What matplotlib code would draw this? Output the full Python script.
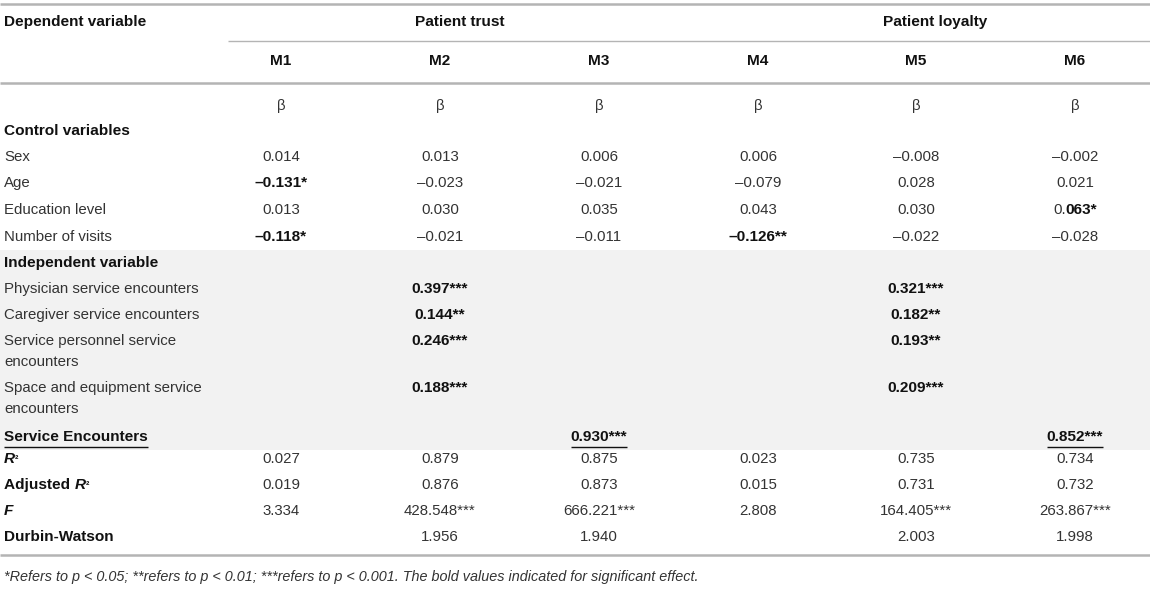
import matplotlib
matplotlib.use("Agg")
import matplotlib.pyplot as plt
from matplotlib.patches import Rectangle

plt.rcParams['font.family'] = ['Liberation Sans', 'DejaVu Sans']

# ---------------- data ----------------
groups = ["Patient trust", "Patient loyalty"]
models = ["M1", "M2", "M3", "M4", "M5", "M6"]
coef_label = "β"

row_labels = [
    "Sex", "Age", "Education level", "Number of visits",
    "Physician service encounters", "Caregiver service encounters",
    "Service personnel service\nencounters", "Space and equipment service\nencounters",
    "Service Encounters",
    "R2", "Adjusted R2", "F", "Durbin-Watson",
]
sex_vals = ["0.014", "0.013", "0.006", "0.006", "–0.008", "–0.002"]
age_vals = ["–0.131*", "–0.023", "–0.021", "–0.079", "0.028", "0.021"]
edu_vals = ["0.013", "0.030", "0.035", "0.043", "0.030", "0.063*"]
visits_vals = ["–0.118*", "–0.021", "–0.011", "–0.126**", "–0.022", "–0.028"]
physician_vals = ["", "0.397***", "", "", "0.321***", ""]
caregiver_vals = ["", "0.144**", "", "", "0.182**", ""]
personnel_vals = ["", "0.246***", "", "", "0.193**", ""]
space_vals = ["", "0.188***", "", "", "0.209***", ""]
encounters_vals = ["", "", "0.930***", "", "", "0.852***"]
r2_vals = ["0.027", "0.879", "0.875", "0.023", "0.735", "0.734"]
adj_r2_vals = ["0.019", "0.876", "0.873", "0.015", "0.731", "0.732"]
f_vals = ["3.334", "428.548***", "666.221***", "2.808", "164.405***", "263.867***"]
dw_vals = ["", "1.956", "1.940", "", "2.003", "1.998"]

all_vals = [sex_vals, age_vals, edu_vals, visits_vals, physician_vals, caregiver_vals,
            personnel_vals, space_vals, encounters_vals, r2_vals, adj_r2_vals, f_vals, dw_vals]

# bold cells: (row index, column index)
bold_cells = [(1, 0), (3, 0), (3, 3), (4, 1), (4, 4), (5, 1), (5, 4), (6, 1), (6, 4),
              (7, 1), (7, 4), (8, 2), (8, 5)]
partial_bold_cells = [(2, 5)]   # "0." regular + rest bold
underlined_cells = [(8, 2), (8, 5)]

footnote = ("*Refers to p < 0.05; **refers to p < 0.01; ***refers to p < 0.001. "
            "The bold values indicated for significant effect.")

# ---------------- layout ----------------
W, H = 1150, 592
fig = plt.figure(figsize=(W / 100, H / 100), dpi=100)
ax = fig.add_axes([0, 0, 1, 1])
ax.set_xlim(0, W)
ax.set_ylim(H, 0)
ax.axis('off')
renderer = fig.canvas.get_renderer()

FS = 10.8
FSB = 11.1
REG = '#333333'
BLD = '#111111'
LINE = '#b4b4b4'

col_x = [281, 440, 599, 758, 916, 1075]
group_x = [460, 935]
label_x = 4

row_y = [157, 183, 210, 237, 289, 315, 341, 388, 437, 459, 485, 511, 537]
line_gap = 21

# shaded block
ax.add_patch(Rectangle((0, 250), W, 200, facecolor='#f2f2f2', edgecolor='none', zorder=0))

# rules
ax.plot([0, W], [4, 4], color=LINE, lw=1.8, solid_capstyle='butt')
ax.plot([228, W], [41, 41], color=LINE, lw=1.0, solid_capstyle='butt')
ax.plot([0, W], [83, 83], color=LINE, lw=1.8, solid_capstyle='butt')
ax.plot([0, W], [555, 555], color=LINE, lw=1.8, solid_capstyle='butt')


def segs_draw(x, y, segs, ha='left', underline=False):
    texts, widths = [], []
    for s, kw in segs:
        bold = kw.get('weight', 'normal') == 'bold'
        t = ax.text(0, y, s, va='center', ha='left', fontsize=kw.get('size', FSB if bold else FS),
                    fontweight=kw.get('weight', 'normal'), fontstyle=kw.get('style', 'normal'),
                    color=kw.get('color', REG))
        texts.append(t)
        widths.append(t.get_window_extent(renderer).width)
    total = sum(widths)
    start = x - total / 2 if ha == 'center' else x
    cur = start
    for t, w in zip(texts, widths):
        t.set_x(cur)
        cur += w
    if underline:
        ax.plot([start, start + total], [y + 10, y + 10], color=BLD, lw=1.0,
                solid_capstyle='butt')


B = {'weight': 'bold', 'color': BLD}
BI = {'weight': 'bold', 'style': 'italic', 'color': BLD}
SUP = {'weight': 'bold', 'color': BLD, 'size': 7.5}
R = {'color': REG}

# header
segs_draw(label_x, 22, [("Dependent variable", B)])
for gx, g in zip(group_x, groups):
    segs_draw(gx, 22, [(g, B)], ha='center')
for cx, m in zip(col_x, models):
    segs_draw(cx, 61, [(m, B)], ha='center')
    segs_draw(cx, 106, [(coef_label, R)], ha='center')

# section headers
segs_draw(label_x, 131, [("Control variables", B)])
segs_draw(label_x, 263, [("Independent variable", B)])

# row labels
for i, (lab, y) in enumerate(zip(row_labels, row_y)):
    if lab == "Service Encounters":
        segs_draw(label_x, y, [(lab, B)], underline=True)
    elif lab == "R2":
        segs_draw(label_x, y, [("R", BI), ("²", SUP)])
    elif lab == "Adjusted R2":
        segs_draw(label_x, y, [("Adjusted ", B), ("R", BI), ("²", SUP)])
    elif lab == "F":
        segs_draw(label_x, y, [("F", BI)])
    elif lab == "Durbin-Watson":
        segs_draw(label_x, y, [(lab, B)])
    else:
        for k, part in enumerate(lab.split("\n")):
            segs_draw(label_x, y + k * line_gap, [(part, R)])

# values
for i, vals in enumerate(all_vals):
    y = row_y[i]
    for j, v in enumerate(vals):
        if not v:
            continue
        if (i, j) in partial_bold_cells:
            segs_draw(col_x[j], y, [(v[:2], R), (v[2:], B)], ha='center')
        elif (i, j) in bold_cells:
            segs_draw(col_x[j], y, [(v, B)], ha='center', underline=(i, j) in underlined_cells)
        else:
            segs_draw(col_x[j], y, [(v, R)], ha='center')

# footnote
ax.text(label_x, 577, footnote, va='center', ha='left', fontsize=10.4,
        fontstyle='italic', color=REG)

fig.savefig("out.png", dpi=100)
